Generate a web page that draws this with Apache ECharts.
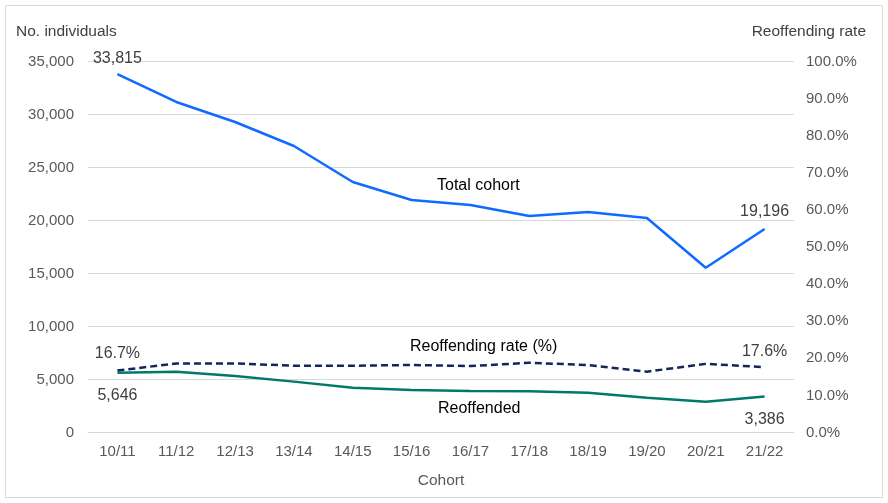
<!DOCTYPE html>
<html><head><meta charset="utf-8">
<script src="https://cdn.jsdelivr.net/npm/echarts@6/dist/echarts.min.js"></script>
<style>html,body{margin:0;padding:0;background:#fff}#c{width:888px;height:503px}</style>
</head><body><div id="c"></div>
<script>
const categories = ['10/11','11/12','12/13','13/14','14/15','15/16','16/17','17/18','18/19','19/20','20/21','21/22'];
const totalCohort = [33815,31180,29290,27030,23630,21930,21460,20420,20800,20230,15540,19196];
const reoffended = [5646,5740,5330,4800,4230,4010,3910,3890,3760,3280,2900,3386];
const reoffendingRate = [16.7,18.6,18.6,18.0,18.0,18.2,17.9,18.8,18.2,16.4,18.5,17.6];

const font = 'Liberation Sans, Arial, sans-serif';
const grey = '#595959';
const chart = echarts.init(document.getElementById('c'));

function endLabels(arr, fmt, posFirst, posLast, offFirst, offLast) {
  return arr.map((v, i) => {
    if (i === 0) return {value: v, label: {show: true, position: posFirst, offset: offFirst, formatter: fmt}};
    if (i === arr.length - 1) return {value: v, label: {show: true, position: posLast, offset: offLast, formatter: fmt}};
    return v;
  });
}

chart.setOption({
  animation: false,
  grid: {left: 88, right: 94, top: 61.5, bottom: 70.5, containLabel: false},
  graphic: [
    {type: 'rect', shape: {x: 5.5, y: 5.5, width: 877, height: 492}, style: {fill: 'none', stroke: '#d9d9d9', lineWidth: 1}, silent: true},
    {type: 'text', left: 437, top: 178, style: {text: 'Total cohort', font: '16px ' + font, fill: '#000'}},
    {type: 'text', left: 410, top: 339, style: {text: 'Reoffending rate (%)', font: '16px ' + font, fill: '#000'}},
    {type: 'text', left: 438, top: 401, style: {text: 'Reoffended', font: '16px ' + font, fill: '#000'}}
  ],
  xAxis: {
    type: 'category', data: categories, boundaryGap: true,
    name: 'Cohort', nameLocation: 'middle', nameGap: 40,
    nameTextStyle: {color: grey, fontSize: 15.5, fontFamily: font},
    axisLine: {show: true, lineStyle: {color: '#d9d9d9'}},
    axisTick: {show: false},
    axisLabel: {color: grey, fontSize: 15, fontFamily: font, margin: 12, interval: 0}
  },
  yAxis: [
    {
      type: 'value', min: 0, max: 35000, interval: 5000,
      name: 'No. individuals', nameLocation: 'end', nameGap: 22,
      nameTextStyle: {color: '#404040', fontSize: 15.5, fontFamily: font, align: 'left', padding: [0, 0, 0, -72]},
      axisLine: {show: false}, axisTick: {show: false},
      splitLine: {lineStyle: {color: '#d9d9d9', width: 1}},
      axisLabel: {color: grey, fontSize: 15, fontFamily: font, margin: 14,
        formatter: v => v.toLocaleString('en-GB')}
    },
    {
      type: 'value', min: 0, max: 100, interval: 10, position: 'right',
      name: 'Reoffending rate', nameLocation: 'end', nameGap: 22,
      nameTextStyle: {color: '#404040', fontSize: 15.5, fontFamily: font, align: 'right', padding: [0, -72, 0, 0]},
      axisLine: {show: false}, axisTick: {show: false}, splitLine: {show: false},
      axisLabel: {color: grey, fontSize: 15, fontFamily: font, margin: 12,
        formatter: v => v.toFixed(1) + '%'}
    }
  ],
  series: [
    {
      name: 'Total cohort', type: 'line', yAxisIndex: 0, symbol: 'circle', symbolSize: 0.01, showSymbol: true,
      itemStyle: {color: '#0F6BFF'},
      lineStyle: {color: '#0F6BFF', width: 2.5},
      label: {color: '#404040', fontSize: 16, fontFamily: font},
      data: endLabels(totalCohort, p => p.value.toLocaleString('en-GB'), 'top', 'top', [0, -2], [0, -4])
    },
    {
      name: 'Reoffended', type: 'line', yAxisIndex: 0, symbol: 'circle', symbolSize: 0.01, showSymbol: true,
      itemStyle: {color: '#00796B'},
      lineStyle: {color: '#00796B', width: 2.5},
      label: {color: '#404040', fontSize: 16, fontFamily: font},
      data: endLabels(reoffended, p => p.value.toLocaleString('en-GB'), 'bottom', 'bottom', [0, 10], [0, 10])
    },
    {
      name: 'Reoffending rate (%)', type: 'line', yAxisIndex: 1, symbol: 'circle', symbolSize: 0.01, showSymbol: true,
      itemStyle: {color: '#13255A'},
      lineStyle: {color: '#13255A', width: 2.5, type: [7, 4]},
      label: {color: '#404040', fontSize: 16, fontFamily: font},
      data: endLabels(reoffendingRate, p => p.value.toFixed(1) + '%', 'top', 'top', [0, -4], [0, -3])
    }
  ]
});
</script></body></html>
